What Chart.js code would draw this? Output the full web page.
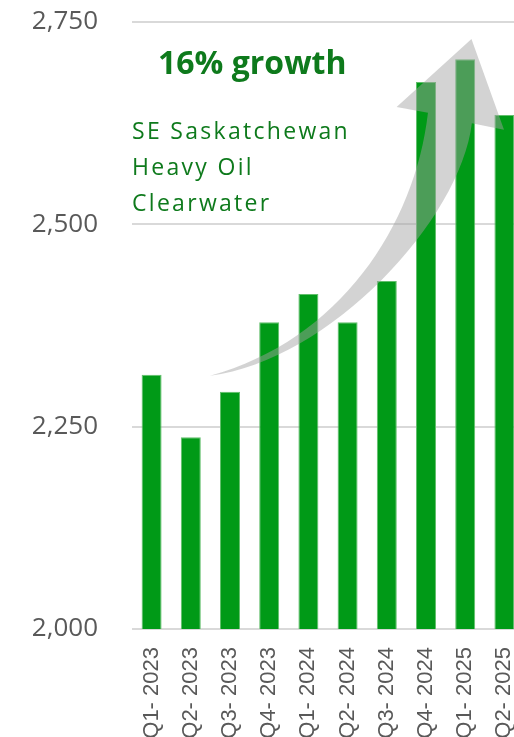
<!DOCTYPE html>
<html>
<head>
<meta charset="utf-8">
<script src="https://cdn.jsdelivr.net/npm/chart.js@4.4.1/dist/chart.umd.min.js"></script>
<style>
  html, body { margin: 0; padding: 0; background: #fff; overflow: hidden; }
  #wrap { width: 524px; height: 737px; }
</style>
</head>
<body>
<div id="wrap"><canvas id="prodChart" width="524" height="737"></canvas></div>
<script>
const quarters = ['Q1- 2023', 'Q2- 2023', 'Q3- 2023', 'Q4- 2023', 'Q1- 2024',
                  'Q2- 2024', 'Q3- 2024', 'Q4- 2024', 'Q1- 2025', 'Q2- 2025'];
const volumes = [2314, 2237, 2293, 2379, 2414, 2379, 2430, 2676, 2704, 2635];
const yTicks = [2000, 2250, 2500, 2750];

const growthLabel = '16% growth';
const areaLines = ['SE Saskatchewan', 'Heavy Oil', 'Clearwater'];

// growth arrow, in (category index, value) units
const arrowPath = {
    tail: [1.49, 2313],
    upperC1: [4.80, 2357], upperC2: [6.72, 2499], upperEnd: [7.05, 2638],
    leftBarb: [6.25, 2645], tip: [8.16, 2729], rightBarb: [8.99, 2617],
    lowerStart: [8.17, 2625], lowerC1: [7.87, 2505], lowerC2: [4.55, 2332]
};

const green = '#009a17';
const textGreen = '#0e7a1c';
const grey = '#595959';

const annotations = {
    id: 'annotations',
    afterDatasetsDraw(chart) {
        const ctx = chart.ctx;
        const xs = chart.scales.x, ys = chart.scales.y;
        const p = k => [xs.getPixelForValue(arrowPath[k][0]), ys.getPixelForValue(arrowPath[k][1])];

        ctx.save();
        ctx.beginPath();
        ctx.moveTo(...p('tail'));
        ctx.bezierCurveTo(...p('upperC1'), ...p('upperC2'), ...p('upperEnd'));
        ctx.lineTo(...p('leftBarb'));
        ctx.lineTo(...p('tip'));
        ctx.lineTo(...p('rightBarb'));
        ctx.lineTo(...p('lowerStart'));
        ctx.bezierCurveTo(...p('lowerC1'), ...p('lowerC2'), ...p('tail'));
        ctx.closePath();
        ctx.fillStyle = 'rgba(161,161,161,0.47)';
        ctx.fill();

        const area = chart.chartArea;
        ctx.fillStyle = textGreen;
        ctx.textBaseline = 'alphabetic';
        ctx.textAlign = 'left';
        ctx.font = 'bold 32px "Open Sans"';
        ctx.fillText(growthLabel, area.left + 26, area.top + 52);

        ctx.font = '23px "Open Sans"';
        ctx.letterSpacing = '2.3px';
        areaLines.forEach((line, i) => {
            ctx.fillText(line, area.left, area.top + 117 + i * 36);
        });
        ctx.restore();
    }
};

const ctx = document.getElementById('prodChart').getContext('2d');
new Chart(ctx, {
    type: 'bar',
    data: {
        labels: quarters,
        datasets: [{
            data: volumes,
            backgroundColor: green,
            borderColor: '#62bf6c',
            borderWidth: 1,
            barPercentage: 0.51,
            categoryPercentage: 1
        }]
    },
    options: {
        responsive: false,
        animation: false,
        layout: { padding: { top: 22, right: 0, bottom: 0, left: 0 } },
        plugins: {
            legend: { display: false },
            tooltip: { enabled: false }
        },
        scales: {
            x: {
                grid: { display: false, drawTicks: false },
                border: { display: false },
                ticks: {
                    autoSkip: false,
                    maxRotation: 90,
                    minRotation: 90,
                    padding: 18,
                    color: grey,
                    font: { family: '"Liberation Sans", Arial, sans-serif', size: 22 }
                },
                afterFit(scale) {
                    scale.height = 108;
                    scale.paddingLeft = 0;
                    scale.paddingRight = 0;
                }
            },
            y: {
                min: 2000,
                max: 2750,
                grid: { color: '#d9d9d9', lineWidth: 2, drawTicks: false },
                border: { display: false },
                afterBuildTicks(scale) { scale.ticks = yTicks.map(v => ({ value: v })); },
                ticks: {
                    padding: 34,
                    color: grey,
                    font: { family: '"Open Sans", sans-serif', size: 26 },
                    callback: v => v.toLocaleString('en-US')
                },
                afterFit(scale) {
                    scale.width = 132;
                    scale.paddingTop = 0;
                    scale.paddingBottom = 0;
                }
            }
        }
    },
    plugins: [annotations]
});
</script>
</body>
</html>
